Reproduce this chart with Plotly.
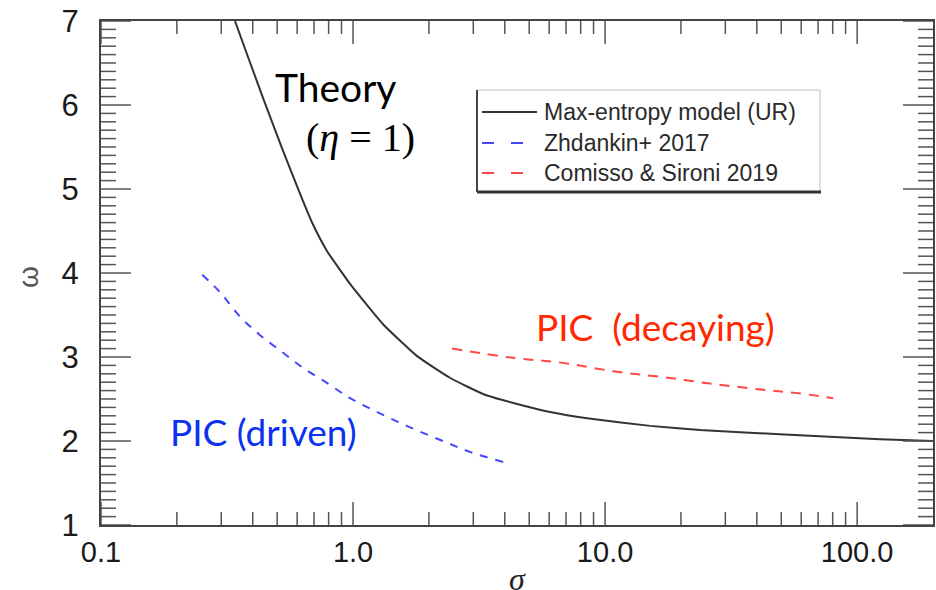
import math
import plotly.graph_objects as go

# ---------------- data ----------------
theory_sigma = [0.340, 0.379, 0.440, 0.522, 0.617, 0.693, 0.789, 0.973, 1.315, 1.795,
                2.43, 3.28, 4.48, 6.05, 8.49, 15.1, 23.8, 49.4, 123.0, 200.0]
theory_alpha = [7.00, 6.61, 6.08, 5.49, 4.94, 4.58, 4.26, 3.87, 3.39, 3.01,
                2.75, 2.56, 2.44, 2.345, 2.27, 2.18, 2.13, 2.08, 2.02, 2.00]

zhdankin_sigma = [0.252, 0.297, 0.356, 0.428, 0.528, 0.634, 0.789, 0.973, 1.20,
                  1.50, 1.85, 2.36, 2.91, 3.94]
zhdankin_alpha = [3.98, 3.77, 3.48, 3.26, 3.05, 2.87, 2.69, 2.51, 2.37,
                  2.23, 2.11, 1.98, 1.87, 1.75]

comisso_sigma = [2.47, 4.31, 6.81, 10.8, 17.0, 26.8, 42.4, 57.8, 80.3]
comisso_alpha = [3.10, 2.99, 2.93, 2.83, 2.76, 2.68, 2.61, 2.57, 2.51]

x_major = [0.1, 1, 10, 100]
x_ticktext = ["0.1", "1.0", "10.0", "100.0"]
y_major = [1, 2, 3, 4, 5, 6, 7]

legend_names = ["Max-entropy model (UR)", "Zhdankin+ 2017", "Comisso & Sironi 2019"]

# ---------------- layout helpers ----------------
W, H = 936, 590
L, R, T, B = 101, 933, 21, 525
PW, PH = R - L, B - T


def px(x):
    return (x - L) / PW


def py(y):
    return (B - y) / PH


BLACK = "#333333"
BLUE = "rgb(70,70,255)"
RED = "rgb(255,70,70)"
TICKC = "#555555"

fig = go.Figure()
fig.add_trace(go.Scatter(x=theory_sigma, y=theory_alpha, mode="lines",
                         line=dict(color=BLACK, width=2, shape="spline", smoothing=0.4),
                         name=legend_names[0], showlegend=False))
fig.add_trace(go.Scatter(x=zhdankin_sigma, y=zhdankin_alpha, mode="lines",
                         line=dict(color=BLUE, width=2, dash="8px,8px", shape="spline"),
                         name=legend_names[1], showlegend=False))
fig.add_trace(go.Scatter(x=comisso_sigma, y=comisso_alpha, mode="lines",
                         line=dict(color=RED, width=2, dash="10px,8px", shape="spline"),
                         name=legend_names[2], showlegend=False))

fig.update_xaxes(type="log", range=[-1, math.log10(200)], tickmode="array",
                 tickvals=x_major, ticktext=x_ticktext, ticks="",
                 showgrid=False, zeroline=False, showline=True, linecolor="#444444",
                 linewidth=2, mirror=True,
                 tickfont=dict(family="Liberation Sans", size=29, color="#1a1a1a"))
fig.update_yaxes(range=[1, 7], tickmode="array", tickvals=y_major, ticks="",
                 showgrid=False, zeroline=False, showline=True, linecolor="#444444",
                 linewidth=2, mirror=True,
                 tickfont=dict(family="Liberation Sans", size=31, color="#1a1a1a"),
                 ticklabelstandoff=14)

# ---- tick marks on all four sides, placed on the axes' own data scales ----
x_minor = [m * 10 ** k for k in range(-1, 3) for m in range(2, 10) if m * 10 ** k < 200]
y_minor = [1 + i / 10 for i in range(61) if i % 10 != 0]

shapes = []


def xtick(v, length):
    f = length / PH
    for y0, y1 in ((0, f), (1 - f, 1)):
        shapes.append(dict(type="line", xref="x", yref="paper", x0=v, x1=v, y0=y0, y1=y1,
                           line=dict(color=TICKC, width=1.5)))


def ytick(v, length):
    f = length / PW
    for x0, x1 in ((0, f), (1 - f, 1)):
        shapes.append(dict(type="line", xref="paper", yref="y", x0=x0, x1=x1, y0=v, y1=v,
                           line=dict(color=TICKC, width=1.5)))


for v in x_major:
    xtick(v, 23)
for v in x_minor:
    xtick(v, 13)
for v in y_major:
    ytick(v, 30)
for v in y_minor:
    ytick(v, 15)

annotations = [
    dict(text="Theory", x=px(335), y=py(87), font=dict(family="Lato", size=39, color="black")),
    dict(text="(<i>η</i> = 1)", x=px(360), y=py(137),
         font=dict(family="Liberation Serif", size=40, color="black")),
    dict(text="PIC (driven)", x=px(263), y=py(431),
         font=dict(family="Lato", size=37, color="rgb(10,50,240)")),
    dict(text="PIC\u00a0\u00a0(decaying)", x=px(655), y=py(326),
         font=dict(family="Lato", size=37, color="rgb(255,40,0)")),
    dict(text="ω", x=px(28), y=py(277), textangle=-90,
         font=dict(family="Liberation Sans", size=28, color="#555555")),
    dict(text="<i>σ</i>", x=px(517), y=py(579),
         font=dict(family="Liberation Serif", size=32, color="#222222")),
]

leg_rows = [112, 143, 173]
leg_colors = [BLACK, BLUE, RED]
leg_dash = ["solid", "12px,17px", "12px,17px"]
for name, yy in zip(legend_names, leg_rows):
    annotations.append(dict(text=name, x=px(542), y=py(yy), xanchor="left",
                            font=dict(family="Liberation Sans", size=23, color="#2a2a2a")))
for a in annotations:
    a.setdefault("xref", "paper")
    a.setdefault("yref", "paper")
    a.setdefault("showarrow", False)
    a.setdefault("xanchor", "center")
    a.setdefault("yanchor", "middle")

shapes += [
    dict(type="rect", xref="paper", yref="paper", x0=px(477), x1=px(820), y0=py(192), y1=py(90),
         line=dict(color="#bbbbbb", width=1), fillcolor="white", layer="below"),
    dict(type="line", xref="paper", yref="paper", x0=px(477), x1=px(821), y0=py(192), y1=py(192),
         line=dict(color="#333333", width=3)),
    dict(type="line", xref="paper", yref="paper", x0=px(477), x1=px(477), y0=py(192), y1=py(90),
         line=dict(color="#444444", width=2)),
]
for c, d, yy in zip(leg_colors, leg_dash, leg_rows):
    shapes.append(dict(type="line", xref="paper", yref="paper", x0=px(482), x1=px(537),
                       y0=py(yy), y1=py(yy), line=dict(color=c, width=2, dash=d)))

fig.update_layout(template="none", width=W, height=H,
                  margin=dict(l=L, r=W - R, t=T, b=H - B),
                  paper_bgcolor="white", plot_bgcolor="white",
                  annotations=annotations, shapes=shapes, showlegend=False)

fig.write_html("out.html")
